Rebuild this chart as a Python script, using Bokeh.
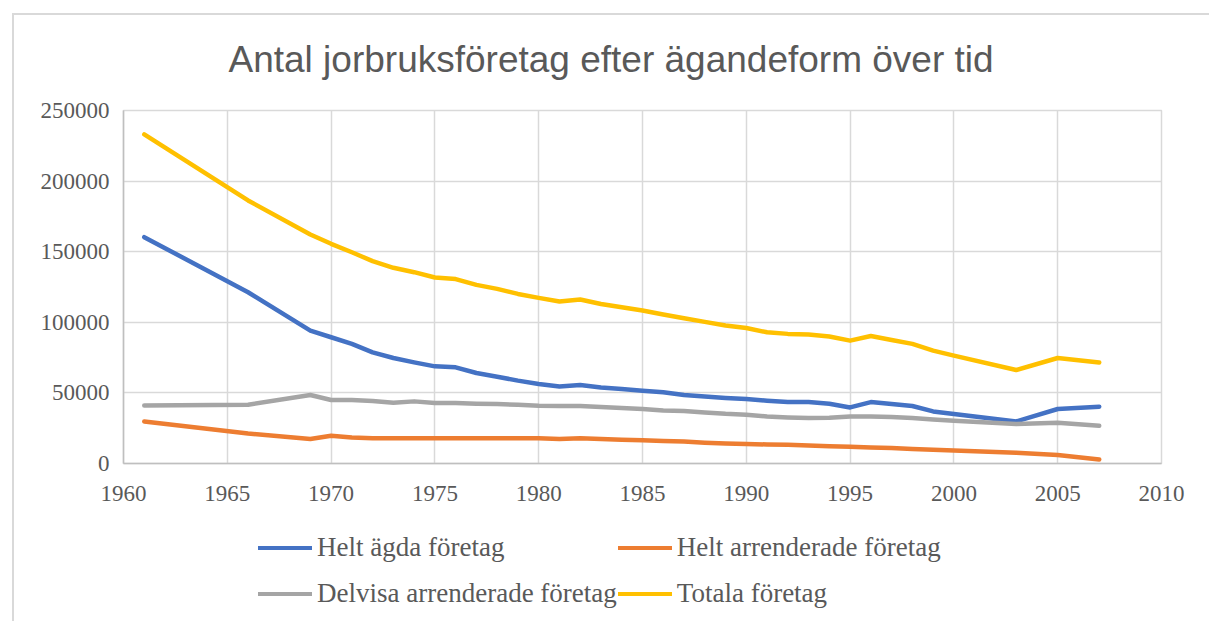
from bokeh.plotting import figure
from bokeh.models import Range1d, Legend, LegendItem, FixedTicker, BasicTickFormatter, InlineStyleSheet
from bokeh.layouts import column
from bokeh.embed import file_html
from bokeh.resources import INLINE

title_text = "Antal jorbruksföretag efter ägandeform över tid"

years = [1961, 1966, 1969, 1970, 1971, 1972, 1973, 1974, 1975, 1976, 1977, 1978,
         1979, 1980, 1981, 1982, 1983, 1984, 1985, 1986, 1987, 1988, 1989, 1990,
         1991, 1992, 1993, 1994, 1995, 1996, 1997, 1998, 1999, 2000, 2003, 2005, 2007]

helt_agda = [160300, 121300, 94100, 89400, 84700, 78700, 74700, 71600, 68800, 68100,
             64100, 61500, 58700, 56300, 54600, 55600, 53900, 52800, 51600, 50400,
             48500, 47500, 46400, 45600, 44500, 43500, 43500, 42300, 39700, 43500,
             42100, 40700, 36900, 35000, 29800, 38600, 40200]

helt_arrenderade = [29800, 21300, 17300, 19600, 18400, 17900, 17900, 17900, 17900, 17900,
                    17900, 17900, 17900, 17900, 17300, 17900, 17300, 16800, 16400, 15900,
                    15500, 14700, 14200, 13800, 13500, 13300, 12800, 12300, 11800, 11400,
                    10900, 10200, 9700, 9200, 7600, 6000, 2800]

delvisa = [41100, 41600, 48500, 45000, 45000, 44300, 43000, 44000, 42800, 42800,
           42300, 42100, 41600, 40900, 40700, 40700, 40000, 39300, 38600, 37600,
           37100, 36200, 35200, 34600, 33300, 32600, 32200, 32400, 33300, 33300,
           32900, 32200, 31200, 30300, 27900, 28900, 26700]

totala = [233100, 186300, 162200, 155600, 149600, 143300, 138600, 135500, 131700, 130600,
          126500, 123700, 120100, 117300, 114700, 116100, 113000, 110600, 108300, 105500,
          102900, 100300, 97700, 96000, 92900, 91800, 91300, 89900, 87000, 90300,
          87500, 84700, 79900, 76400, 66200, 74700, 71600]

series_names = ["Helt ägda företag", "Helt arrenderade företag",
                "Delvisa arrenderade företag", "Totala företag"]
series_values = [helt_agda, helt_arrenderade, delvisa, totala]
series_colors = ["#4472C4", "#ED7D31", "#A5A5A5", "#FFC000"]

x_ticks = [1960, 1965, 1970, 1975, 1980, 1985, 1990, 1995, 2000, 2005, 2010]
y_ticks = [0, 50000, 100000, 150000, 200000, 250000]

TEXT = "#595959"
GRID = "#D9D9D9"
W = 1209

p = figure(width=W, height=510, x_range=Range1d(1960, 2010), y_range=Range1d(0, 250000),
           output_backend="svg", toolbar_location=None,
           min_border_left=123, min_border_right=48, min_border_top=110, min_border_bottom=47)

p.title.text = title_text
p.title.text_font = "Liberation Sans"
p.title.text_font_size = "37px"
p.title.text_font_style = "normal"
p.title.text_color = TEXT
p.title.align = "left"
p.title.offset = 105
p.title.standoff = 61

p.outline_line_color = GRID
p.outline_line_width = 1.5
p.background_fill_color = "white"
p.border_fill_color = None

for ax in (p.xaxis[0], p.yaxis[0]):
    ax.axis_line_color = "#BFBFBF"
    ax.axis_line_width = 1.5
    ax.major_tick_line_color = None
    ax.minor_tick_line_color = None
    ax.major_label_text_font = "Liberation Serif"
    ax.major_label_text_font_size = "23px"
    ax.major_label_text_color = TEXT

p.xaxis[0].ticker = FixedTicker(ticks=x_ticks)
p.yaxis[0].ticker = FixedTicker(ticks=y_ticks)
p.yaxis[0].formatter = BasicTickFormatter(use_scientific=False)
p.xaxis[0].major_label_standoff = 16
p.yaxis[0].major_label_standoff = 8

p.xgrid.grid_line_color = GRID
p.ygrid.grid_line_color = GRID
p.xgrid.grid_line_width = 1.5
p.ygrid.grid_line_width = 1.5

for name, vals, col in zip(series_names, series_values, series_colors):
    p.line(years, vals, line_color=col, line_width=4.5, line_join="round", line_cap="round")

# legend panel below the chart (its frame is aligned with the chart frame)
pl = figure(width=W, height=111, x_range=Range1d(0, 1), y_range=Range1d(0, 1),
            output_backend="svg", toolbar_location=None,
            x_axis_location=None, y_axis_location=None,
            min_border_left=123, min_border_right=48, min_border_top=0, min_border_bottom=0)
pl.grid.visible = False
pl.outline_line_color = None
pl.background_fill_color = None
pl.border_fill_color = None

nan = float("nan")
items = []
for name, col in zip(series_names, series_colors):
    r = pl.line(x=[nan, nan], y=[nan, nan], line_color=col, line_width=4, line_cap="round")
    items.append(LegendItem(label=name, renderers=[r]))

legend = Legend(items=items, orientation="horizontal", ncols=2,
                location=(135, 5), margin=0, padding=0,
                glyph_width=54, glyph_height=45, label_height=45, spacing=1, label_standoff=5,
                label_text_font="Liberation Serif", label_text_font_size="27px",
                label_text_color=TEXT, border_line_color=None, background_fill_alpha=0)
pl.add_layout(legend, "center")

layout = column(p, pl, spacing=0)
layout.stylesheets = [InlineStyleSheet(css="""
:host { position: relative; }
:host::after { content: ""; position: absolute; left: 12px; top: 13px; right: 0px; bottom: 0px;
  border-top: 2px solid #D9D9D9; border-left: 2px solid #D9D9D9; pointer-events: none; z-index: 5; }
""")]

open("out.html", "w").write(file_html(layout, INLINE))
